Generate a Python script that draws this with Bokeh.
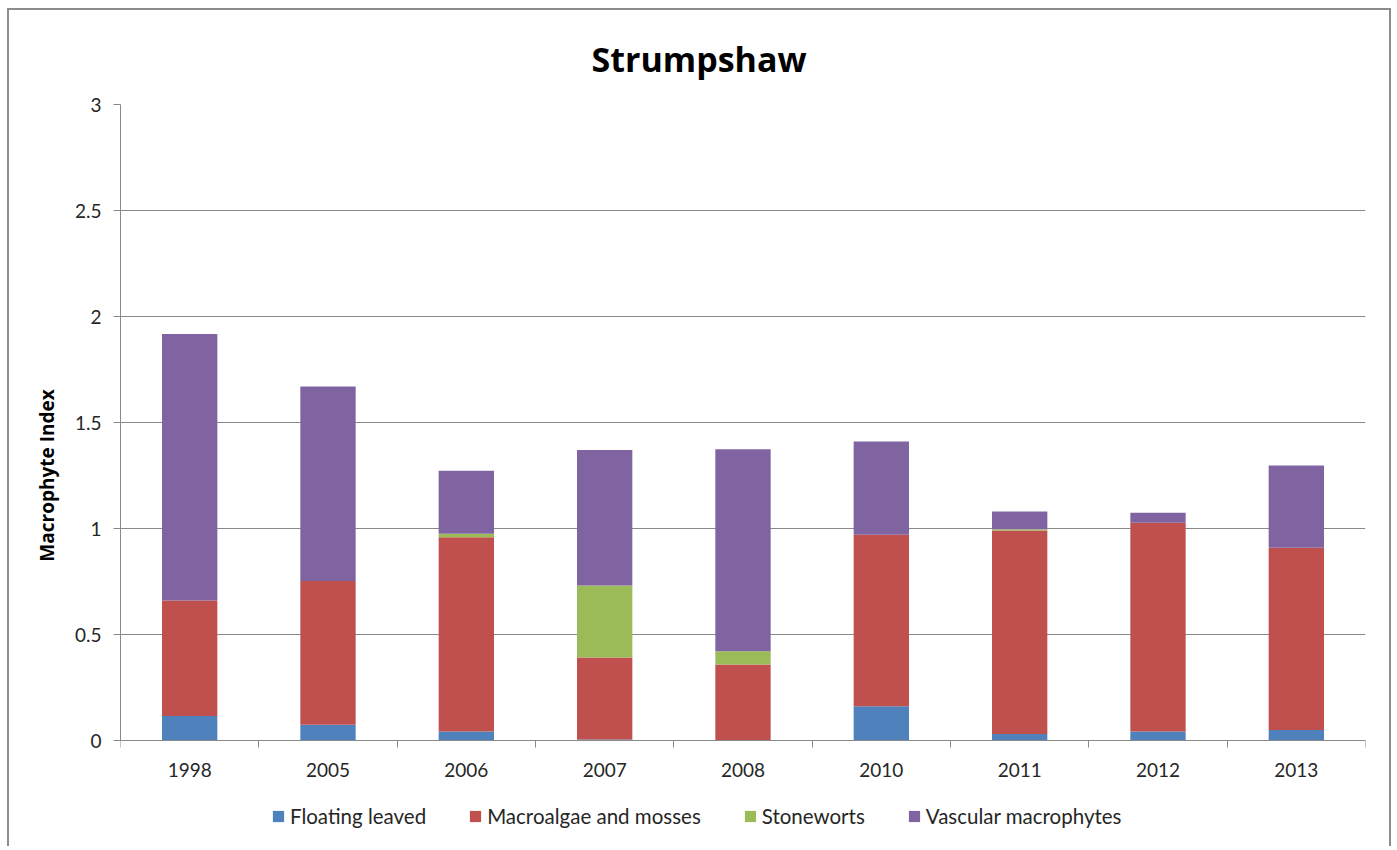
from bokeh.plotting import figure
from bokeh.models import (ColumnDataSource, FixedTicker, LinearAxis, Range1d,
                          CustomJSTickFormatter, Legend, Grid)
from bokeh.embed import file_html
from bokeh.resources import INLINE

# Macrophyte index components per survey year
years = ["1998", "2005", "2006", "2007", "2008", "2010", "2011", "2012", "2013"]
floating_leaved = [0.115, 0.074, 0.042, 0.005, 0.0, 0.162, 0.031, 0.042, 0.049]
macroalgae_mosses = [0.545, 0.678, 0.917, 0.387, 0.358, 0.808, 0.960, 0.985, 0.860]
stoneworts = [0.0, 0.0, 0.016, 0.339, 0.063, 0.0, 0.005, 0.0, 0.0]
vascular = [1.258, 0.918, 0.297, 0.639, 0.953, 0.440, 0.084, 0.047, 0.388]

series = ["Floating leaved", "Macroalgae and mosses", "Stoneworts", "Vascular macrophytes"]
colors = ["#4F81BD", "#C0504D", "#9BBB59", "#8064A2"]
y_ticks = [0, 0.5, 1, 1.5, 2, 2.5, 3]

FONT = "Lato"
BOLD_FONT = "Open Sans"
GRID = "#898989"
TEXT = "#262626"

n = len(years)
source = ColumnDataSource(dict(
    x=[i + 0.5 for i in range(n)],
    year=years,
    **{series[0]: floating_leaved, series[1]: macroalgae_mosses,
       series[2]: stoneworts, series[3]: vascular},
))

# The frame reaches below zero so the year labels and legend sit inside it
p = figure(frame_width=1245, frame_height=742, output_backend="svg",
           toolbar_location=None,
           x_range=Range1d(0, n), y_range=Range1d(-0.5, 3),
           min_border_left=111, min_border_right=24, min_border_top=92,
           min_border_bottom=0, x_axis_type=None, y_axis_type=None,
           title="Strumpshaw",
           margin=(8, 0, 0, 7),
           styles={"border-top": "2px solid #8c8c8c",
                   "border-left": "2px solid #8c8c8c",
                   "border-right": "2px solid #8c8c8c"})
p.outline_line_color = None
p.background_fill_color = "white"
p.border_fill_color = "white"

p.title.text_font = BOLD_FONT
p.title.text_font_size = "34px"
p.title.text_font_style = "bold"
p.title.text_color = "#000000"
p.title.align = "left"
p.title.offset = 471
p.title.standoff = 46

renderers = p.vbar_stack(series, x="x", width=0.4, source=source,
                         color=colors, line_color=None)

# Value axis
yaxis = LinearAxis(ticker=FixedTicker(ticks=y_ticks), bounds=(0, 3),
                   formatter=CustomJSTickFormatter(code="return String(tick);"))
yaxis.axis_label = "Macrophyte Index"
yaxis.axis_label_text_font = BOLD_FONT
yaxis.axis_label_text_font_size = "19px"
yaxis.axis_label_text_font_style = "bold"
yaxis.axis_label_text_color = "#000000"
yaxis.axis_label_standoff = 12
yaxis.major_label_text_font = FONT
yaxis.major_label_text_font_size = "19px"
yaxis.major_label_text_color = TEXT
yaxis.major_label_standoff = 12
yaxis.axis_line_color = GRID
yaxis.major_tick_line_color = GRID
yaxis.major_tick_out = 7
yaxis.major_tick_in = 0
yaxis.minor_tick_line_color = None
p.add_layout(yaxis, "left")

# Year axis at zero: labels at bar centres, tick marks on category boundaries
xaxis = LinearAxis(ticker=FixedTicker(ticks=[i + 0.5 for i in range(n)],
                                      minor_ticks=list(range(n + 1))),
                   major_label_overrides={i + 0.5: y for i, y in enumerate(years)},
                   fixed_location=0)
xaxis.axis_line_color = GRID
xaxis.major_tick_line_color = None
xaxis.major_tick_out = 0
xaxis.major_tick_in = 0
xaxis.minor_tick_line_color = GRID
xaxis.minor_tick_out = 7
xaxis.minor_tick_in = 0
xaxis.major_label_standoff = 15
xaxis.major_label_text_font = FONT
xaxis.major_label_text_font_size = "19px"
xaxis.major_label_text_color = TEXT
p.add_layout(xaxis, "below")

p.add_layout(Grid(dimension=1, ticker=yaxis.ticker, grid_line_color=GRID,
                  grid_line_width=1))

legend = Legend(items=[(s, [r]) for s, r in zip(series, renderers)],
                orientation="horizontal", location=(151, 18),
                label_text_font=FONT, label_text_font_size="20.5px",
                label_text_color=TEXT, glyph_width=14, glyph_height=14,
                label_standoff=5, spacing=42, border_line_color=None,
                background_fill_alpha=0, margin=0, padding=0)
p.add_layout(legend, "center")

open("out.html", "w").write(file_html(p, INLINE))
